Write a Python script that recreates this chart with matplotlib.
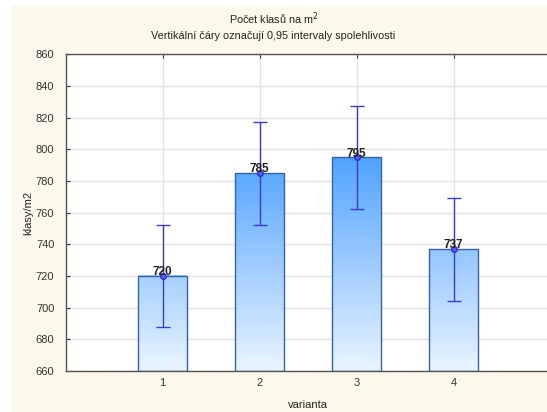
import matplotlib
matplotlib.use("Agg")
import matplotlib.pyplot as plt
import numpy as np
from matplotlib.colors import LinearSegmentedColormap, Normalize
from matplotlib.patches import Rectangle

categories = [1, 2, 3, 4]
means = [720, 785, 795, 737]
ci_low = [687.5, 752.5, 762.5, 704.5]
ci_high = [752.5, 817.5, 827.5, 769.5]
yticks = list(range(660, 861, 20))

plt.rcParams['font.family'] = ['Liberation Sans', 'DejaVu Sans']

fig = plt.figure(figsize=(5.47, 4.12), dpi=100)
fig.patch.set_facecolor('white')
fig.patches.append(Rectangle((11 / 547, 0), 1, 1 - 6 / 412, transform=fig.transFigure,
                             facecolor='#fdf8ec', edgecolor='none', zorder=-10))

W, H = 547, 412
left, right, top, bottom = 65.5, 550.5, 54.3, 371
ax = fig.add_axes([left / W, 1 - bottom / H, (right - left) / W, (bottom - top) / H])
ax.set_zorder(1)
ax.set_facecolor('white')

cmap = LinearSegmentedColormap.from_list('g', ['#eaf4ff', '#4ba0ff'])
norm = Normalize(vmin=660, vmax=800, clip=True)
bw = 0.5
for x, m in zip(categories, means):
    grad = np.linspace(660, m, 200).reshape(-1, 1)
    ax.imshow(grad, cmap=cmap, norm=norm, origin='lower', aspect='auto',
              extent=[x - bw / 2, x + bw / 2, 660, m], zorder=2, interpolation='bilinear')
ax.bar(categories, [m - 660 for m in means], bottom=660, width=bw, fill=False,
       edgecolor='#33649f', linewidth=1.0, zorder=3)
ax.set_xlim(0, 5)
ax.set_ylim(660, 860)

yerr = [np.array(means) - np.array(ci_low), np.array(ci_high) - np.array(means)]
ax.errorbar(categories, means, yerr=yerr, fmt='o', color='#3b3bc8', ecolor='#3b3bc8',
            elinewidth=1.0, capsize=5, capthick=1.0, markersize=4,
            markerfacecolor='#5a5aff', markeredgecolor='#3030c0', zorder=4)

for x, m in zip(categories, means):
    ax.text(x, m - 1.5, str(m), ha='center', va='bottom', fontsize=8.5,
            fontweight='bold', color='#222222', zorder=5)

ax.set_xticks(categories)
ax.set_yticks(yticks)
ax.tick_params(axis='both', direction='in', length=3, labelsize=8, colors='#333333',
               top=True, right=True, pad=5)
ax.tick_params(axis='y', pad=8)
ax.grid(True, color='#e2e2e2', linewidth=1.0, zorder=0)
ax.set_axisbelow(True)
for s in ax.spines.values():
    s.set_color('#555555')
    s.set_linewidth(1.0)

ax.set_xlabel('varianta', fontsize=8, color='#222222', labelpad=9)
ax.set_ylabel('klasy/m2', fontsize=8, color='#222222', labelpad=2)

fig.text(0.5, 1 - 19 / H, 'Počet klasů na m$^2$', ha='center', va='center', fontsize=7.8, color='#222222')
fig.text(0.5, 1 - 36 / H, 'Vertikální čáry označují 0,95 intervaly spolehlivosti', ha='center',
         va='center', fontsize=7.8, color='#222222')

fig.savefig('out.png', dpi=100, facecolor=fig.get_facecolor())
